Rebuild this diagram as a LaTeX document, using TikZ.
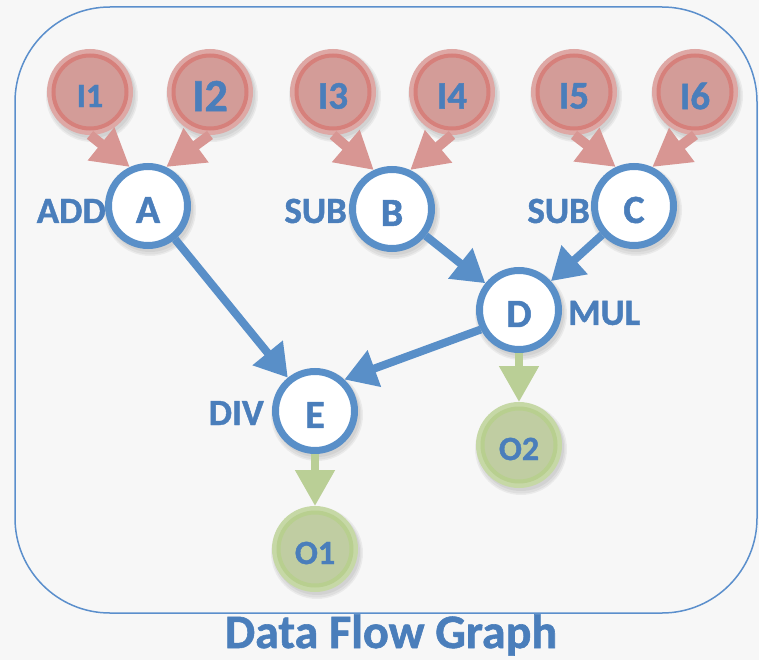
\documentclass[tikz,border=0pt]{standalone}
\usepackage{fontspec}
\setmainfont{Carlito}[BoldFeatures={FakeBold=1.2}]
\usetikzlibrary{arrows.meta}

\definecolor{bgcol}{RGB}{247,247,247}
\definecolor{framecol}{RGB}{91,143,204}
\definecolor{bluecol}{RGB}{89,143,200}
\definecolor{txtcol}{RGB}{74,126,187}
\definecolor{redout}{RGB}{222,168,165}
\definecolor{redring}{RGB}{214,128,123}
\definecolor{redin}{RGB}{211,156,152}
\definecolor{redarrow}{RGB}{216,150,147}
\definecolor{grnout}{RGB}{198,216,166}
\definecolor{grnring}{RGB}{184,207,143}
\definecolor{grnin}{RGB}{192,205,162}
\definecolor{grnarrow}{RGB}{186,207,150}

\newcommand\myfs[1]{\fontsize{#1}{#1}\selectfont\bfseries}

\pgfdeclarelayer{bg}
\pgfdeclarelayer{shadow}
\pgfsetlayers{bg,shadow,main}

\begin{document}
\begin{tikzpicture}[x=1pt,y=-1pt,
  opnode/.style={circle, minimum size=79pt, inner sep=0pt, outer sep=3.5pt,
    draw=bluecol, line width=7pt, fill=white},
  innode/.style={circle, minimum size=86pt, inner sep=0pt, outer sep=0pt,
    fill=redout,
    path picture={
      \fill[redin] (path picture bounding box.center) circle (35pt);
      \draw[redring, line width=4pt] (path picture bounding box.center) circle (36.5pt);}},
  outnode/.style={circle, minimum size=86pt, inner sep=0pt, outer sep=0pt,
    fill=grnout,
    path picture={
      \fill[grnin] (path picture bounding box.center) circle (35pt);
      \draw[grnring, line width=4pt] (path picture bounding box.center) circle (36.5pt);}},
  tag/.style={text=txtcol, inner sep=0pt},
  intext/.style={tag, yshift=-4pt},
  redarr/.style={draw=redarrow, line width=10pt, -{Triangle[length=37pt,width=40pt]}},
  bluearr/.style={draw=bluecol, line width=8pt, -{Triangle[length=32pt,width=37pt]}},
  grnarr/.style={draw=grnarrow, line width=8pt, -{Triangle[length=36pt,width=38pt]}},
  shade1/.style={fill=black, opacity=0.05},
]

\begin{pgfonlayer}{bg}
  \fill[bgcol] (0,0) rectangle (759,660);
\end{pgfonlayer}
\useasboundingbox (0,0) rectangle (759,660);

% outer frame
\draw[framecol, line width=1.5pt, rounded corners=95pt] (15,7) rectangle (757,613);

% input nodes
\node[innode, label={[intext, font=\myfs{34}]center:I1}] (I1) at (90,92) {};
\node[innode, label={[intext, font=\myfs{46}]center:I2}] (I2) at (210,92) {};
\node[innode, label={[intext, font=\myfs{39}]center:I3}] (I3) at (333,92) {};
\node[innode, label={[intext, font=\myfs{39}]center:I4}] (I4) at (452,92) {};
\node[innode, label={[intext, font=\myfs{39}]center:I5}] (I5) at (574,92) {};
\node[innode, label={[intext, font=\myfs{39}]center:I6}] (I6) at (695,92) {};

% operation nodes
\node[opnode, label={[intext, font=\myfs{40}]center:A}] (A) at (148,206) {};
\node[opnode, label={[intext, font=\myfs{40}]center:B}] (B) at (392,209) {};
\node[opnode, label={[intext, font=\myfs{40}]center:C}] (C) at (634,206) {};
\node[opnode, label={[intext, font=\myfs{40}]center:D}] (D) at (519,310) {};
\node[opnode, label={[intext, font=\myfs{40}]center:E}] (E) at (315,411) {};

% output nodes
\node[outnode, label={[intext, font=\myfs{34}]center:O1}] (O1) at (315,549) {};
\node[outnode, label={[intext, font=\myfs{34}]center:O2}] (O2) at (519,445) {};

% operation names
\node[tag, font=\myfs{37}, anchor=east] (addlab) at (106,211) {ADD};
\node[tag, font=\myfs{37}, anchor=east] (sublabb) at (347,211) {SUB};
\node[tag, font=\myfs{37}, anchor=east] (sublabc) at (590,211) {SUB};
\node[tag, font=\myfs{37}, anchor=west] (mullab) at (568,313) {MUL};
\node[tag, font=\myfs{37}, anchor=east] (divlab) at (264,413) {DIV};

% soft shadows under the circles
\begin{pgfonlayer}{shadow}
  \foreach \n in {I1,I2,I3,I4,I5,I6,A,B,C,D,E,O1,O2} {
    \fill[shade1] ([shift={(2,4)}]\n.center) circle (46pt);
    \fill[shade1] ([shift={(2,4)}]\n.center) circle (44.5pt);
    \fill[shade1] ([shift={(2,3)}]\n.center) circle (43pt);
  }
\end{pgfonlayer}

% input edges
\draw[redarr] (I1.-90) -- (A.115);
\draw[redarr] (I2.-90) -- (A.65);
\draw[redarr] (I3.-90) -- (B.115);
\draw[redarr] (I4.-90) -- (B.65);
\draw[redarr] (I5.-90) -- (C.115);
\draw[redarr] (I6.-90) -- (C.65);

% internal edges
\draw[bluearr] (A) -- (E);
\draw[bluearr] (B) -- (D);
\draw[bluearr] (C) -- (D);
\draw[bluearr] (D.207) -- (E.47);

% output edges
\draw[grnarr] (E) -- (O1);
\draw[grnarr] (D) -- (O2);

% caption
\node[tag, font=\myfs{48}, anchor=base] (title) at (391,648) {Data Flow Graph};

\end{tikzpicture}
\end{document}
